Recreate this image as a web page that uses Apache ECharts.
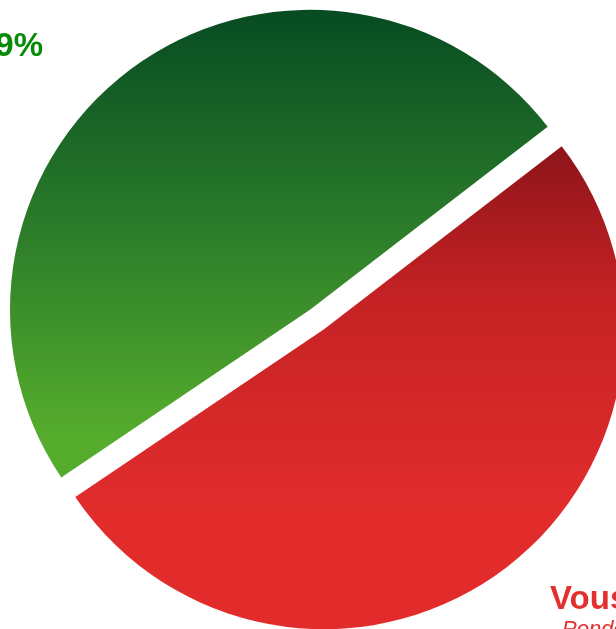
<!DOCTYPE html>
<html>
<head>
<meta charset="utf-8">
<script src="https://cdn.jsdelivr.net/npm/echarts@6/dist/echarts.min.js"></script>
<style>
  html, body { margin: 0; padding: 0; background: #fff; }
  #chart { width: 616px; height: 629px; }
</style>
</head>
<body>
<div id="chart"></div>
<script>
// data
const names = ['Eux', 'Vous'];
const values = [49, 51];
const subLabels = ['', 'Pondéré'];

const gradients = [
    ['#074b22', '#2a7a2a', '#55ab2c'],
    ['#8c1419', '#c42224', '#e22c2c']
];
const labelColors = ['#078a07', '#e2302f'];
const fontFamily = 'Liberation Sans, Arial, sans-serif';

let chart = echarts.init(document.getElementById('chart'));

let option = {
    animation: false,
    // slice labels sit outside the pie and are cut by the canvas edge
    graphic: [
        {
            type: 'text',
            x: 43, y: 47,
            style: {
                text: values[0] + '%',
                align: 'right', verticalAlign: 'middle',
                font: 'bold 33px ' + fontFamily,
                fill: labelColors[0]
            }
        },
        {
            type: 'text',
            x: 550, y: 600,
            style: {
                text: names[1] + ' ' + values[1] + '%',
                align: 'left', verticalAlign: 'middle',
                font: 'bold 33px ' + fontFamily,
                fill: labelColors[1]
            }
        },
        {
            type: 'text',
            x: 562, y: 630,
            style: {
                text: subLabels[1],
                align: 'left', verticalAlign: 'middle',
                font: 'italic 22px ' + fontFamily,
                fill: labelColors[1]
            }
        }
    ],
    series: [{
        type: 'pie',
        center: [317, 319.5],
        radius: 300,
        startAngle: 214,
        clockwise: true,
        selectedMode: 'multiple',
        selectedOffset: 12,
        emphasis: { disabled: true },
        label: { show: false },
        labelLine: { show: false },
        data: names.map(function (n, i) {
            let g = gradients[i];
            return {
                name: n,
                value: values[i],
                selected: true,
                itemStyle: {
                    color: new echarts.graphic.LinearGradient(0, 0, 0, 1, [
                        { offset: 0, color: g[0] },
                        { offset: i === 0 ? 0.45 : 0.3, color: g[1] },
                        { offset: i === 0 ? 0.9 : 0.75, color: g[2] },
                        { offset: 1, color: g[2] }
                    ])
                }
            };
        })
    }]
};

chart.setOption(option);
</script>
</body>
</html>
